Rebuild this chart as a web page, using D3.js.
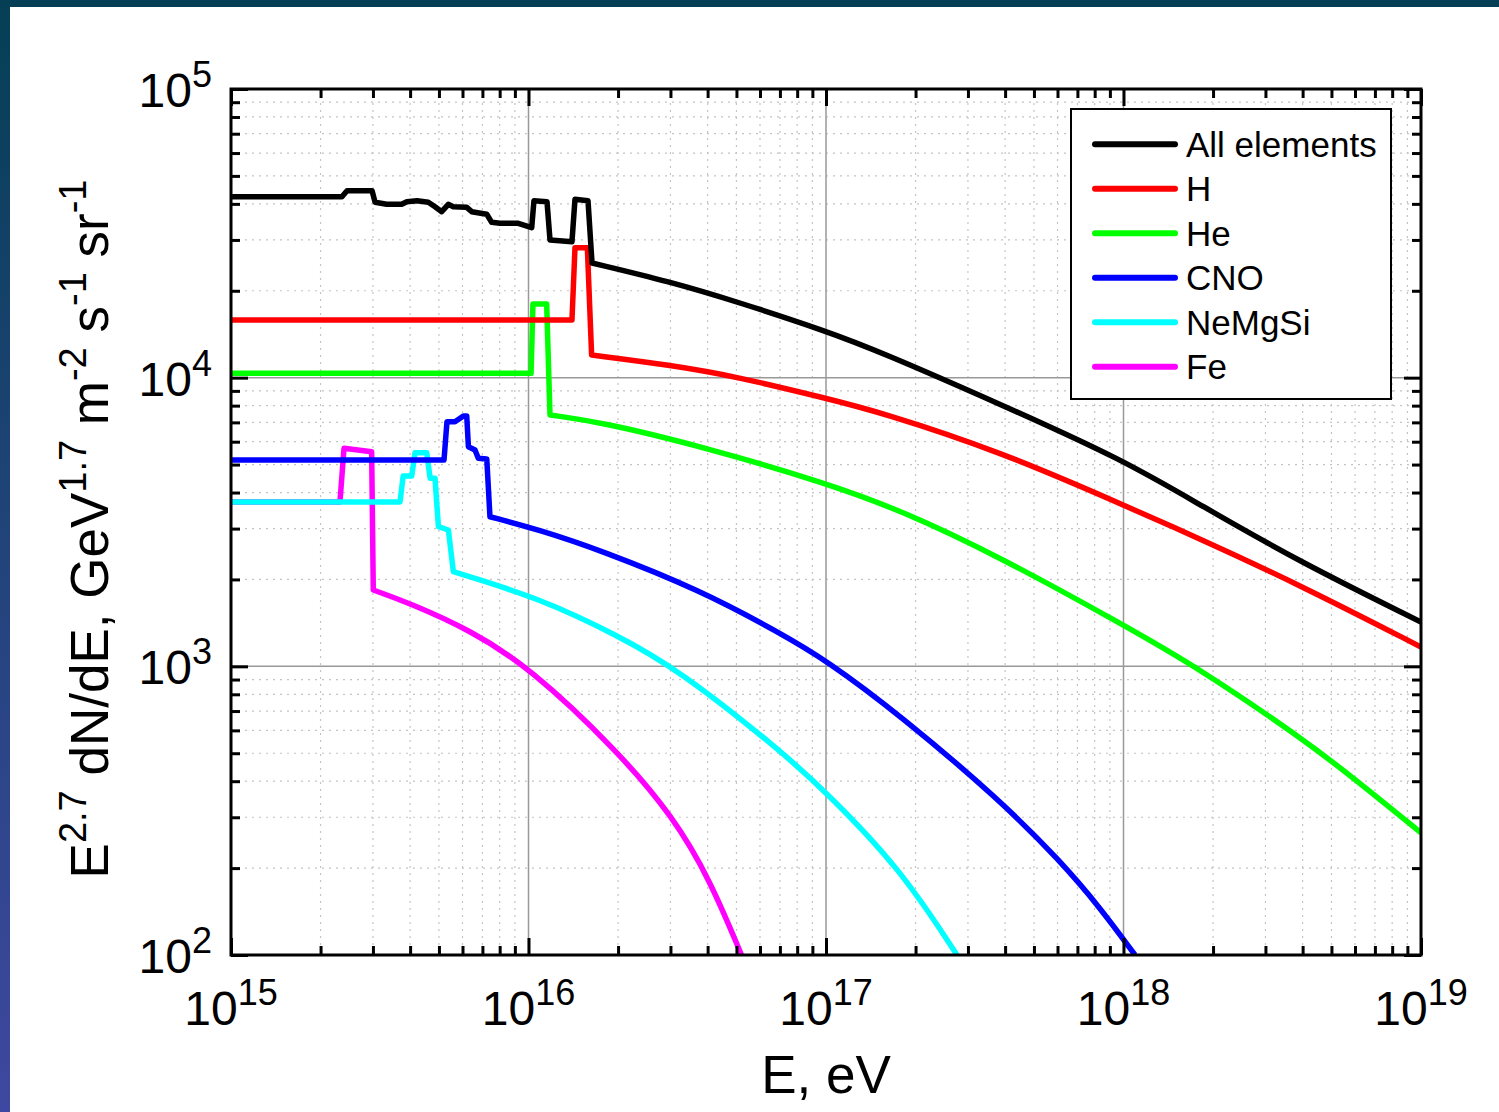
<!DOCTYPE html>
<html><head><meta charset="utf-8">
<script src="https://cdn.jsdelivr.net/npm/d3@7"></script>
<style>html,body{margin:0;padding:0;background:#fff;overflow:hidden}</style>
</head><body>
<svg id="c" width="1499" height="1112"></svg>
<script>
// ---- data ----
const xTickExponents = [15, 16, 17, 18, 19];
const yTickExponents = [2, 3, 4, 5];
const seriesNames = ["All elements", "H", "He", "CNO", "NeMgSi", "Fe"];
const seriesColors = ["#000000", "#ff0000", "#00ff00", "#0000ff", "#00ffff", "#ff00ff"];

const allE = [1e15, 2.36e15, 2.455e15, 2.98e15, 3.05e15, 3.337e15, 3.748e15, 3.90e15, 4.22e15, 4.605e15, 4.85e15, 5.108e15, 5.375e15, 5.587e15, 6.20e15, 6.445e15, 7.24e15, 7.52e15, 8.02e15, 9.24e15, 1.025e16, 1.043e16, 1.154e16, 1.181e16, 1.40e16, 1.433e16, 1.585e16, 1.635e16, 2.99e16, 5.02e16, 1e17, 1.52e17, 3.85e17, 1e18, 1.81e18, 3.92e18, 1e19];
const allV = [42360, 42360, 44420, 44420, 40500, 39860, 39860, 40700, 41020, 40500, 39100, 37580, 39860, 39100, 38910, 37580, 36810, 34520, 34250, 34250, 33070, 41020, 40700, 29990, 29580, 41480, 41020, 24960, 21500, 18330, 14510, 12300, 8100, 5186, 3622, 2298, 1424];

const hE = [1e15, 1.40e16, 1.433e16, 1.577e16, 1.63e16, 2.99e16, 5.02e16, 1e17, 1.52e17, 3.85e17, 1e18, 1.81e18, 3.92e18, 1e19];
const hV = [15840, 15840, 28190, 28190, 11980, 11060, 10080, 8483, 7603, 5550, 3622, 2762, 1913, 1167];

const heE = [1e15, 1.02e16, 1.035e16, 1.151e16, 1.181e16, 1.739e16, 3.772e16, 1e17, 1.773e17, 3.845e17, 1e18, 1.807e18, 3.92e18, 5.77e18, 1e19];
const heV = [10350, 10350, 17990, 17990, 7427, 7022, 5799, 4316, 3480, 2392, 1391, 979, 569, 420, 265];

const cnoE = [1e15, 5.20e15, 5.32e15, 5.66e15, 6.04e15, 6.20e15, 6.28e15, 6.61e15, 6.78e15, 7.24e15, 7.42e15, 1.093e16, 1.739e16, 3.772e16, 7.006e16, 1e17, 1.773e17, 3.845e17, 6.12e17, 8.34e17, 1.093e18];
const cnoV = [5186, 5186, 7039, 7039, 7367, 7367, 5766, 5616, 5256, 5230, 3298, 2967, 2529, 1838, 1305, 1052, 678, 344, 212, 146, 100];

const nemgsiE = [1e15, 3.70e15, 3.79e15, 4.05e15, 4.155e15, 4.55e15, 4.67e15, 4.85e15, 4.98e15, 5.38e15, 5.59e15, 1.093e16, 1.98e16, 3.149e16, 7.006e16, 1e17, 1.773e17, 2.756e17];
const nemgsiV = [3710, 3710, 4563, 4563, 5496, 5490, 4481, 4481, 3045, 2967, 2127, 1721, 1284, 984, 513, 367, 200, 100];

const feE = [1e15, 2.324e15, 2.398e15, 2.97e15, 3.008e15, 3.996e15, 6.36e15, 1.004e16, 1.98e16, 3.068e16, 4.075e16, 5.2e16];
const feV = [3710, 3710, 5691, 5538, 1838, 1654, 1336, 995, 513, 301, 182, 100];

// index where each series' smooth high-energy tail begins
const tailStart = [27, 4, 4, 10, 10, 4];

const seriesE = [allE, hE, heE, cnoE, nemgsiE, feE];
const seriesV = [allV, hV, heV, cnoV, nemgsiV, feV];

// ---- layout ----
const W = 1499, H = 1112;
const L = 231, R = 1421, T = 89, B = 955;
const FONT = "'Liberation Sans', Arial, Helvetica, sans-serif";

const svg = d3.select("#c");
const defs = svg.append("defs");
const grad = defs.append("linearGradient").attr("id", "lg").attr("x1", 0).attr("y1", 0).attr("x2", 0).attr("y2", 1);
grad.append("stop").attr("offset", "0%").attr("stop-color", "#053f55");
grad.append("stop").attr("offset", "100%").attr("stop-color", "#3f48a0");
defs.append("clipPath").attr("id", "clip").append("rect").attr("x", L).attr("y", T).attr("width", R - L).attr("height", B - T);

svg.append("rect").attr("width", W).attr("height", H).attr("fill", "#fff");
svg.append("rect").attr("x", 0).attr("y", 0).attr("width", W).attr("height", 7).attr("fill", "#053f55");
svg.append("rect").attr("x", 0).attr("y", 0).attr("width", 10).attr("height", H).attr("fill", "url(#lg)");

const x = d3.scaleLog().domain([1e15, 1e19]).range([L, R]);
const y = d3.scaleLog().domain([1e2, 1e5]).range([B, T]);

const xMajor = xTickExponents.map(e => Math.pow(10, e));
const yMajor = yTickExponents.map(e => Math.pow(10, e));
const xMinor = [], yMinor = [];
for (let e = 15; e < 19; e++) for (let k = 2; k <= 9; k++) xMinor.push(k * Math.pow(10, e));
for (let e = 2; e < 5; e++) for (let k = 2; k <= 9; k++) yMinor.push(k * Math.pow(10, e));

// grid
const grid = svg.append("g");
grid.selectAll(".gxm").data(xMinor).enter().append("line")
  .attr("x1", d => x(d)).attr("x2", d => x(d)).attr("y1", T).attr("y2", B)
  .attr("stroke", "#c4c4c4").attr("stroke-width", 1.2).attr("stroke-dasharray", "2,5");
grid.selectAll(".gym").data(yMinor).enter().append("line")
  .attr("y1", d => y(d)).attr("y2", d => y(d)).attr("x1", L).attr("x2", R)
  .attr("stroke", "#c4c4c4").attr("stroke-width", 1.2).attr("stroke-dasharray", "2,5");
grid.selectAll(".gxM").data(xMajor.slice(1, -1)).enter().append("line")
  .attr("x1", d => x(d)).attr("x2", d => x(d)).attr("y1", T).attr("y2", B)
  .attr("stroke", "#999").attr("stroke-width", 1.5);
grid.selectAll(".gyM").data(yMajor.slice(1, -1)).enter().append("line")
  .attr("y1", d => y(d)).attr("y2", d => y(d)).attr("x1", L).attr("x2", R)
  .attr("stroke", "#999").attr("stroke-width", 1.5);

// curves: linear through the knee structure, B-spline through the smooth tail
const stepLine = d3.line().x(d => x(d[0])).y(d => y(d[1]));
const tailLine = d3.line().x(d => x(d[0])).y(d => y(d[1])).curve(d3.curveBasis);
const cg = svg.append("g").attr("clip-path", "url(#clip)");
for (let i = seriesE.length - 1; i >= 0; i--) {
  const pts = seriesE[i].map((e, j) => [e, seriesV[i][j]]);
  const k = tailStart[i];
  const d = stepLine(pts.slice(0, k + 1)) + tailLine(pts.slice(k)).replace(/^M[^LC]*/, "");
  cg.append("path").attr("d", d).attr("fill", "none")
    .attr("stroke", seriesColors[i]).attr("stroke-width", 5.5)
    .attr("stroke-linejoin", "round").attr("stroke-linecap", "butt");
}

// axes (ticks inward on all four sides)
function styleAxis(g) {
  g.select(".domain").remove();
  g.selectAll("line").attr("stroke", "#000").attr("stroke-width", 3);
  g.selectAll("text").remove();
}
const MAJ = 17, MIN = 9;
svg.append("g").attr("transform", `translate(0,${B})`).call(d3.axisBottom(x).tickValues(xMajor).tickSize(-MAJ)).call(styleAxis);
svg.append("g").attr("transform", `translate(0,${B})`).call(d3.axisBottom(x).tickValues(xMinor).tickSize(-MIN)).call(styleAxis);
svg.append("g").attr("transform", `translate(0,${T})`).call(d3.axisTop(x).tickValues(xMajor).tickSize(-MAJ)).call(styleAxis);
svg.append("g").attr("transform", `translate(0,${T})`).call(d3.axisTop(x).tickValues(xMinor).tickSize(-MIN)).call(styleAxis);
svg.append("g").attr("transform", `translate(${L},0)`).call(d3.axisLeft(y).tickValues(yMajor).tickSize(-MAJ)).call(styleAxis);
svg.append("g").attr("transform", `translate(${L},0)`).call(d3.axisLeft(y).tickValues(yMinor).tickSize(-MIN)).call(styleAxis);
svg.append("g").attr("transform", `translate(${R},0)`).call(d3.axisRight(y).tickValues(yMajor).tickSize(-MAJ)).call(styleAxis);
svg.append("g").attr("transform", `translate(${R},0)`).call(d3.axisRight(y).tickValues(yMinor).tickSize(-MIN)).call(styleAxis);

svg.append("rect").attr("x", L).attr("y", T).attr("width", R - L).attr("height", B - T)
  .attr("fill", "none").attr("stroke", "#000").attr("stroke-width", 3);

// tick labels
const TF = 48, SF = 36;
function powLabel(sel, exp) {
  sel.append("tspan").text("10");
  sel.append("tspan").attr("font-size", SF).attr("dy", -20).text(exp);
}
xTickExponents.forEach((e, i) => {
  const t = svg.append("text").attr("x", x(xMajor[i])).attr("y", 1025)
    .attr("text-anchor", "middle").attr("font-family", FONT).attr("font-size", TF).attr("fill", "#000");
  powLabel(t, e);
});
yTickExponents.forEach((e, i) => {
  const t = svg.append("text").attr("x", 212).attr("y", y(yMajor[i]) + 18)
    .attr("text-anchor", "end").attr("font-family", FONT).attr("font-size", TF).attr("fill", "#000");
  powLabel(t, e);
});

// axis titles
svg.append("text").attr("x", 826).attr("y", 1093).attr("text-anchor", "middle")
  .attr("font-family", FONT).attr("font-size", 53).attr("fill", "#000").text("E, eV");

const yt = svg.append("text").attr("transform", "translate(108,529) rotate(-90)")
  .attr("text-anchor", "middle").attr("font-family", FONT).attr("font-size", 53).attr("fill", "#000");
const parts = [["E", 0], ["2.7", 1], [" dN/dE, GeV", 0], ["1.7", 1], [" m", 0], ["-2", 1], [" s", 0], ["-1", 1], [" sr", 0], ["-1", 1]];
let up = false;
parts.forEach(([s, sup]) => {
  const ts = yt.append("tspan").text(s);
  if (sup) { ts.attr("font-size", 38).attr("dy", -22); up = true; }
  else if (up) { ts.attr("dy", 22); up = false; }
});

// legend
const lg = svg.append("g");
lg.append("rect").attr("x", 1071).attr("y", 109).attr("width", 320).attr("height", 290)
  .attr("fill", "#fff").attr("stroke", "#000").attr("stroke-width", 2);
seriesNames.forEach((n, i) => {
  const cy = 144.3 + i * 44.5;
  lg.append("line").attr("x1", 1095).attr("x2", 1175).attr("y1", cy).attr("y2", cy)
    .attr("stroke", seriesColors[i]).attr("stroke-width", 6).attr("stroke-linecap", "round");
  lg.append("text").attr("x", 1186).attr("y", cy + 12.5).attr("font-family", FONT)
    .attr("font-size", 35).attr("fill", "#000").text(n);
});
</script>
</body></html>
